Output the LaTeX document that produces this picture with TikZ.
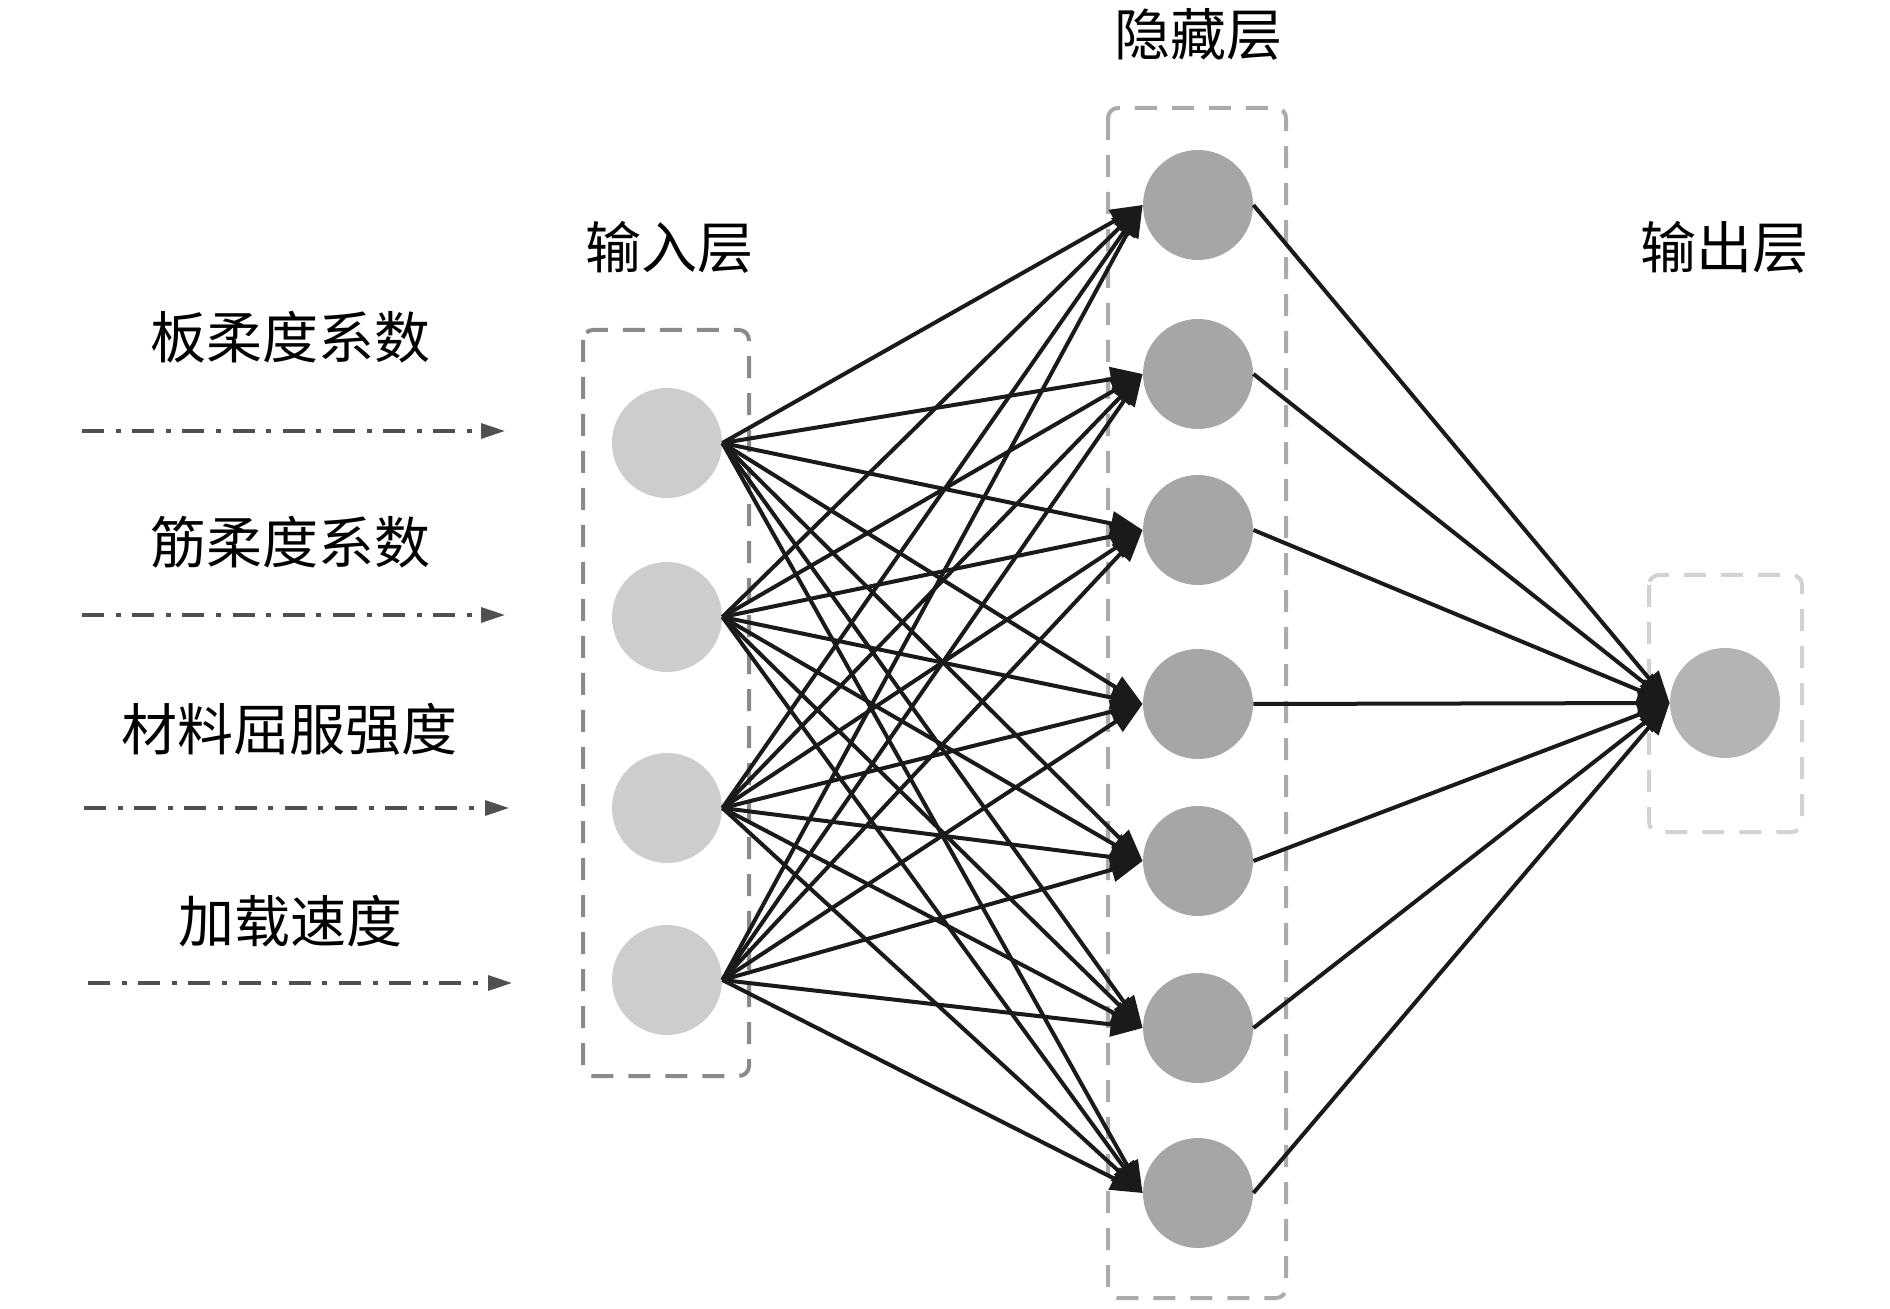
\documentclass[tikz,border=0pt]{standalone}
\usepackage{fontspec}
\newfontfamily\cjk{Noto Sans CJK SC}
\usetikzlibrary{arrows.meta}
\definecolor{ingray}{HTML}{CDCDCD}
\definecolor{hidgray}{HTML}{A6A6A6}
\definecolor{outgray}{HTML}{B4B4B4}
\definecolor{edgeblack}{HTML}{1A1A1A}
\definecolor{boxA}{HTML}{8A8A8A}
\definecolor{boxB}{HTML}{ABABAB}
\definecolor{boxC}{HTML}{D2D2D2}
\definecolor{inarrow}{HTML}{505050}
\begin{document}
\begin{tikzpicture}[x=0.5pt,y=-0.5pt,
  neuron/.style={circle,minimum size=55pt,inner sep=0pt,draw=none},
  innode/.style={neuron,fill=ingray},
  hidnode/.style={neuron,fill=hidgray},
  outnode/.style={neuron,fill=outgray},
  layerbox/.style={line width=2pt,dash pattern=on 11pt off 7.5pt,rounded corners=5pt},
  edge/.style={draw=edgeblack,line width=2pt,-{Triangle[length=16pt,width=12pt]}},
  inputarrow/.style={draw=inarrow,line width=1.6pt,dash pattern=on 11pt off 5.8pt on 2.5pt off 5.8pt,-{Triangle[length=12pt,width=7.5pt]}},
  lbl/.style={font=\cjk\fontsize{28pt}{30pt}\selectfont,inner sep=0pt,text=black}
]
\useasboundingbox (0,0) rectangle (1890,1309);

% layer boxes
\draw[layerbox,draw=boxA] (583,330) rectangle (749,1076);
\draw[layerbox,draw=boxB] (1108,108) rectangle (1286,1298);
\draw[layerbox,draw=boxC] (1649,575) rectangle (1802,832);

% nodes
\node[innode] (i1) at (667,443) {};
\node[innode] (i2) at (667,617) {};
\node[innode] (i3) at (667,808) {};
\node[innode] (i4) at (667,980) {};

\node[hidnode] (h1) at (1198,205) {};
\node[hidnode] (h2) at (1198,374) {};
\node[hidnode] (h3) at (1198,530) {};
\node[hidnode] (h4) at (1198,704) {};
\node[hidnode] (h5) at (1198,861) {};
\node[hidnode] (h6) at (1198,1028) {};
\node[hidnode] (h7) at (1198,1193) {};

\node[outnode] (o) at (1725,703) {};

% edges
\foreach \i in {1,...,4}{
  \foreach \j in {1,...,7}{
    \draw[edge] (i\i.east) -- (h\j.west);
  }
}
\foreach \j in {1,...,7}{
  \draw[edge] (h\j.east) -- (o.west);
}

% layer titles
\node[lbl] (tin) at (669,247) {输入层};
\node[lbl] (thid) at (1198,34) {隐藏层};
\node[lbl] (tout) at (1724,247) {输出层};

% input labels
\node[lbl] (l1) at (290,337) {板柔度系数};
\node[lbl] (l2) at (290,542) {筋柔度系数};
\node[lbl] (l3) at (289,729) {材料屈服强度};
\node[lbl] (l4) at (290,921) {加载速度};

% input arrows
\coordinate (a1s) at (82,431);  \coordinate (a1e) at (505,431);
\coordinate (a2s) at (82,615);  \coordinate (a2e) at (505,615);
\coordinate (a3s) at (84,808);  \coordinate (a3e) at (509,808);
\coordinate (a4s) at (88,983);  \coordinate (a4e) at (512,983);
\draw[inputarrow] (a1s) -- (a1e);
\draw[inputarrow] (a2s) -- (a2e);
\draw[inputarrow] (a3s) -- (a3e);
\draw[inputarrow] (a4s) -- (a4e);
\end{tikzpicture}
\end{document}
